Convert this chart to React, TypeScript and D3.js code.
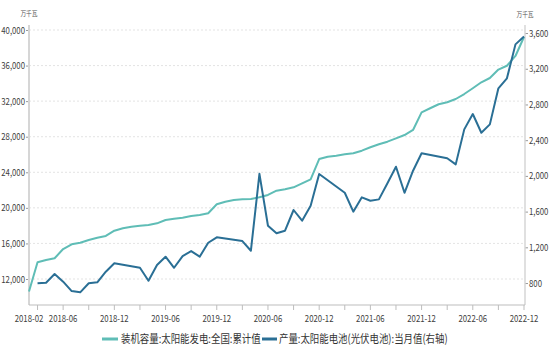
import React, { useEffect, useRef } from "react";
import * as d3 from "d3";

// month categories, 2018-02 .. 2022-12
const months: string[] = [
  "2018-02", "2018-03", "2018-04", "2018-05", "2018-06", "2018-07", "2018-08", "2018-09", "2018-10", "2018-11", "2018-12",
  "2019-01", "2019-02", "2019-03", "2019-04", "2019-05", "2019-06", "2019-07", "2019-08", "2019-09", "2019-10", "2019-11", "2019-12",
  "2020-01", "2020-02", "2020-03", "2020-04", "2020-05", "2020-06", "2020-07", "2020-08", "2020-09", "2020-10", "2020-11", "2020-12",
  "2021-01", "2021-02", "2021-03", "2021-04", "2021-05", "2021-06", "2021-07", "2021-08", "2021-09", "2021-10", "2021-11", "2021-12",
  "2022-01", "2022-02", "2022-03", "2022-04", "2022-05", "2022-06", "2022-07", "2022-08", "2022-09", "2022-10", "2022-11", "2022-12",
];

// 装机容量:太阳能发电:全国:累计值 (万千瓦, left axis)
const capacity: number[] = [
  10600, 13880, 14140, 14330, 15370, 15900, 16080, 16390, 16640, 16840, 17430,
  17700, 17880, 17990, 18070, 18260, 18630, 18780, 18890, 19080, 19200, 19390, 20400,
  20690, 20880, 20960, 21000, 21190, 21450, 21930, 22090, 22310, 22760, 23210, 25490,
  25750, 25870, 26020, 26140, 26430, 26810, 27150, 27440, 27820, 28190, 28760, 30740,
  31200, 31650, 31870, 32240, 32800, 33450, 34120, 34600, 35550, 35980, 37080, 39210,
];

// 产量:太阳能电池(光伏电池):当月值 (万千瓦, right axis), null = not published
const output: (number | null)[] = [
  null, 797, 803, 901, 815, 710, 696, 797, 808, 927, 1021,
  null, null, 971, 826, 1002, 1095, 971, 1102, 1158, 1095, 1251, 1312,
  null, null, 1270, 1162, 2023, 1442, 1357, 1386, 1618, 1498, 1666, 2021,
  null, null, 1811, 1599, 1760, 1722, 1737, 1917, 2103, 1811, 2058, 2253,
  null, null, 2197, 2129, 2521, 2693, 2483, 2577, 2981, 3093, 3473, 3560,
];

const leftTicks = [12000, 16000, 20000, 24000, 28000, 32000, 36000, 40000];
const rightTicks = [800, 1200, 1600, 2000, 2400, 2800, 3200, 3600];
const xTickMonths = months.filter((m) => /-(03|06|09|12)$/.test(m));
const xLabelMonths = ["2018-02", ...months.filter((m) => /-(06|12)$/.test(m))];

const seriesNames = ["装机容量:太阳能发电:全国:累计值", "产量:太阳能电池(光伏电池):当月值(右轴)"];
const unit = "万千瓦";

const GREEN = "#5fbdb6";
const BLUE = "#2a6f95";
const FONT = "'Noto Sans CJK SC', 'Noto Sans', sans-serif";
const SQUEEZE = 0.82;

const App = () => {
  const svgRef = useRef<SVGSVGElement>(null);

  useEffect(() => {
    const svg = d3.select(svgRef.current);
    svg.selectAll("*").remove();

    const left = 29;
    const right = 525;
    const top = 25;
    const bottom = 305;

    const x = d3.scalePoint<string>().domain(months).range([29, 524]);
    const yL = d3.scaleLinear().domain([9076, 40562]).range([bottom, top]);
    const yR = d3.scaleLinear().domain([554, 3690]).range([bottom, top]);

    svg.append("rect").attr("width", 550).attr("height", 351).attr("fill", "#fff");

    // gridlines
    svg
      .append("g")
      .selectAll("line")
      .data(leftTicks)
      .enter()
      .append("line")
      .attr("x1", left)
      .attr("x2", right)
      .attr("y1", (d) => yL(d))
      .attr("y2", (d) => yL(d))
      .attr("stroke", "#dcdcdc")
      .attr("stroke-width", 0.8)
      .attr("stroke-dasharray", "2,2");

    // left axis
    const gl = svg.append("g").attr("transform", `translate(${left},0)`);
    gl.call(d3.axisLeft(yL).tickValues(leftTicks).tickSize(3).tickPadding(1).tickFormat(d3.format(",")));
    gl.select(".domain").remove();
    gl.append("line").attr("y1", top).attr("y2", bottom).attr("stroke", "#d6d6d6").attr("stroke-width", 2);

    // right axis
    const gr = svg.append("g").attr("transform", `translate(${right},0)`);
    gr.call(d3.axisRight(yR).tickValues(rightTicks).tickSize(3).tickPadding(1).tickFormat(d3.format(",")));
    gr.select(".domain").remove();
    gr.append("line").attr("y1", top).attr("y2", bottom).attr("stroke", "#d6d6d6").attr("stroke-width", 1.5);

    // x axis
    const gx = svg.append("g").attr("transform", `translate(0,${bottom})`);
    gx.append("line").attr("x1", left).attr("x2", right).attr("stroke", "#bdbdbd").attr("stroke-width", 1);
    gx.selectAll(".xt")
      .data(xTickMonths)
      .enter()
      .append("line")
      .attr("x1", (d) => x(d)!)
      .attr("x2", (d) => x(d)!)
      .attr("y1", 0)
      .attr("y2", 5)
      .attr("stroke", "#bdbdbd");
    gx.selectAll(".xl")
      .data(xLabelMonths)
      .enter()
      .append("text")
      .attr("x", (d) => x(d)!)
      .attr("y", 17)
      .attr("text-anchor", "middle")
      .text((d) => d);

    [gl, gr].forEach((g) => {
      g.selectAll(".tick line").attr("stroke", "#9a9a9a");
    });

    // lines
    const capLine = d3
      .line<number>()
      .x((_, i) => x(months[i])!)
      .y((d) => yL(d));
    svg
      .append("path")
      .attr("d", capLine(capacity))
      .attr("fill", "none")
      .attr("stroke", GREEN)
      .attr("stroke-width", 2)
      .attr("stroke-linejoin", "round");

    const outPts = months
      .map((m, i) => ({ m, v: output[i] }))
      .filter((d) => d.v !== null) as { m: string; v: number }[];
    const outLine = d3
      .line<{ m: string; v: number }>()
      .x((d) => x(d.m)!)
      .y((d) => yR(d.v));
    svg
      .append("path")
      .attr("d", outLine(outPts))
      .attr("fill", "none")
      .attr("stroke", BLUE)
      .attr("stroke-width", 2)
      .attr("stroke-linejoin", "round");

    // unit labels
    svg.append("text").attr("class", "unit").attr("x", 29).attr("y", 16).attr("text-anchor", "middle").text(unit);
    svg.append("text").attr("class", "unit").attr("x", 525).attr("y", 17).attr("text-anchor", "middle").text(unit);

    // legend
    const lg = svg.append("g").attr("class", "legend");
    lg.append("line").attr("x1", 102).attr("x2", 118).attr("y1", 339).attr("y2", 339).attr("stroke", GREEN).attr("stroke-width", 3);
    lg.append("text").attr("x", 121).attr("y", 343).text(seriesNames[0]);
    lg.append("line").attr("x1", 262).attr("x2", 277).attr("y1", 339).attr("y2", 339).attr("stroke", BLUE).attr("stroke-width", 3);
    lg.append("text").attr("x", 279).attr("y", 343).text(seriesNames[1]);

    // text styling, narrow face like the source: squeeze horizontally around each anchor
    svg.selectAll("text").attr("font-family", FONT).attr("fill", "#404040").attr("font-size", 9.5);
    svg.selectAll(".unit").attr("font-size", 7).attr("fill", "#555");
    lg.selectAll("text").attr("font-size", 11.5).attr("fill", "#333");
    svg.selectAll<SVGTextElement, unknown>("text").each(function () {
      const ax = +(this.getAttribute("x") || 0);
      d3.select(this).attr(
        "transform",
        `translate(${ax},0) scale(${SQUEEZE},1) translate(${-ax},0)`
      );
    });
  }, []);

  return (
    <svg
      ref={svgRef}
      width={550}
      height={351}
      style={{ position: "absolute", left: 0, top: 0 }}
    ></svg>
  );
};

export default App;
